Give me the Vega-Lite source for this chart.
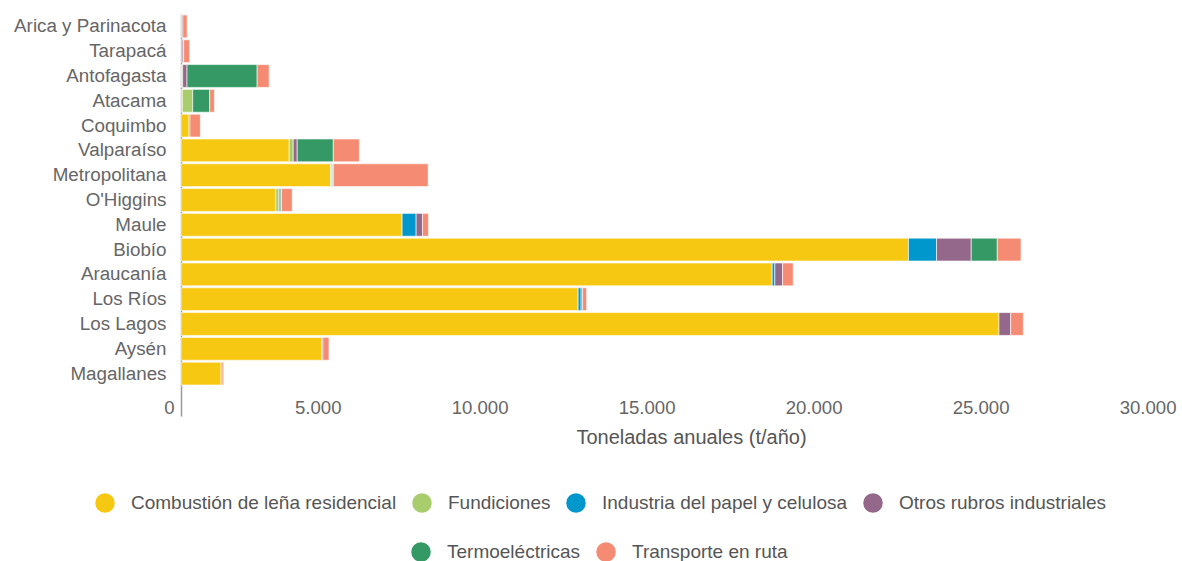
{
  "$schema": "https://vega.github.io/schema/vega-lite/v6.json",
  "width": 1002,
  "height": 372,
  "autosize": {"type": "none"},
  "padding": {"left": 181, "top": 14, "right": 0, "bottom": 175},
  "background": "white",
  "config": {
    "font": "Liberation Sans",
    "view": {"stroke": null},
    "legend": {
      "symbolType": "circle",
      "symbolSize": 380,
      "symbolStrokeWidth": 0,
      "symbolOpacity": 1,
      "labelFontSize": 19,
      "labelColor": "#555555",
      "labelFont": "Liberation Sans",
      "labelOffset": 16,
      "labelLimit": 0,
      "columnPadding": 15,
      "direction": "horizontal",
      "orient": "none",
      "title": null
    }
  },
  "data": {
    "values": [
      {"region": "Arica y Parinacota", "fuente": "Combustión de leña residencial", "valor": 15},
      {"region": "Arica y Parinacota", "fuente": "Otros rubros industriales", "valor": 40},
      {"region": "Arica y Parinacota", "fuente": "Transporte en ruta", "valor": 130},
      {"region": "Tarapacá", "fuente": "Combustión de leña residencial", "valor": 10},
      {"region": "Tarapacá", "fuente": "Otros rubros industriales", "valor": 50},
      {"region": "Tarapacá", "fuente": "Termoeléctricas", "valor": 20},
      {"region": "Tarapacá", "fuente": "Transporte en ruta", "valor": 180},
      {"region": "Antofagasta", "fuente": "Combustión de leña residencial", "valor": 20},
      {"region": "Antofagasta", "fuente": "Fundiciones", "valor": 30},
      {"region": "Antofagasta", "fuente": "Otros rubros industriales", "valor": 130},
      {"region": "Antofagasta", "fuente": "Termoeléctricas", "valor": 2100},
      {"region": "Antofagasta", "fuente": "Transporte en ruta", "valor": 360},
      {"region": "Atacama", "fuente": "Combustión de leña residencial", "valor": 40},
      {"region": "Atacama", "fuente": "Fundiciones", "valor": 310},
      {"region": "Atacama", "fuente": "Termoeléctricas", "valor": 510},
      {"region": "Atacama", "fuente": "Transporte en ruta", "valor": 140},
      {"region": "Coquimbo", "fuente": "Combustión de leña residencial", "valor": 240},
      {"region": "Coquimbo", "fuente": "Otros rubros industriales", "valor": 30},
      {"region": "Coquimbo", "fuente": "Transporte en ruta", "valor": 310},
      {"region": "Valparaíso", "fuente": "Combustión de leña residencial", "valor": 3240},
      {"region": "Valparaíso", "fuente": "Fundiciones", "valor": 120},
      {"region": "Valparaíso", "fuente": "Otros rubros industriales", "valor": 120},
      {"region": "Valparaíso", "fuente": "Termoeléctricas", "valor": 1080},
      {"region": "Valparaíso", "fuente": "Transporte en ruta", "valor": 780},
      {"region": "Metropolitana", "fuente": "Combustión de leña residencial", "valor": 4480},
      {"region": "Metropolitana", "fuente": "Fundiciones", "valor": 30},
      {"region": "Metropolitana", "fuente": "Otros rubros industriales", "valor": 30},
      {"region": "Metropolitana", "fuente": "Termoeléctricas", "valor": 20},
      {"region": "Metropolitana", "fuente": "Transporte en ruta", "valor": 2840},
      {"region": "O'Higgins", "fuente": "Combustión de leña residencial", "valor": 2840},
      {"region": "O'Higgins", "fuente": "Fundiciones", "valor": 90},
      {"region": "O'Higgins", "fuente": "Otros rubros industriales", "valor": 40},
      {"region": "O'Higgins", "fuente": "Termoeléctricas", "valor": 40},
      {"region": "O'Higgins", "fuente": "Transporte en ruta", "valor": 320},
      {"region": "Maule", "fuente": "Combustión de leña residencial", "valor": 6620},
      {"region": "Maule", "fuente": "Industria del papel y celulosa", "valor": 420},
      {"region": "Maule", "fuente": "Otros rubros industriales", "valor": 190},
      {"region": "Maule", "fuente": "Transporte en ruta", "valor": 180},
      {"region": "Biobío", "fuente": "Combustión de leña residencial", "valor": 21780},
      {"region": "Biobío", "fuente": "Industria del papel y celulosa", "valor": 840},
      {"region": "Biobío", "fuente": "Otros rubros industriales", "valor": 1040},
      {"region": "Biobío", "fuente": "Termoeléctricas", "valor": 780},
      {"region": "Biobío", "fuente": "Transporte en ruta", "valor": 710},
      {"region": "Araucanía", "fuente": "Combustión de leña residencial", "valor": 17700},
      {"region": "Araucanía", "fuente": "Industria del papel y celulosa", "valor": 80},
      {"region": "Araucanía", "fuente": "Otros rubros industriales", "valor": 230},
      {"region": "Araucanía", "fuente": "Transporte en ruta", "valor": 320},
      {"region": "Los Ríos", "fuente": "Combustión de leña residencial", "valor": 11890},
      {"region": "Los Ríos", "fuente": "Industria del papel y celulosa", "valor": 90},
      {"region": "Los Ríos", "fuente": "Otros rubros industriales", "valor": 45},
      {"region": "Los Ríos", "fuente": "Transporte en ruta", "valor": 120},
      {"region": "Los Lagos", "fuente": "Combustión de leña residencial", "valor": 24490},
      {"region": "Los Lagos", "fuente": "Otros rubros industriales", "valor": 350},
      {"region": "Los Lagos", "fuente": "Transporte en ruta", "valor": 380},
      {"region": "Aysén", "fuente": "Combustión de leña residencial", "valor": 4220},
      {"region": "Aysén", "fuente": "Otros rubros industriales", "valor": 30},
      {"region": "Aysén", "fuente": "Transporte en ruta", "valor": 180},
      {"region": "Magallanes", "fuente": "Combustión de leña residencial", "valor": 1200},
      {"region": "Magallanes", "fuente": "Otros rubros industriales", "valor": 30},
      {"region": "Magallanes", "fuente": "Transporte en ruta", "valor": 50}
    ]
  },
  "transform": [
    {"stack": "valor", "groupby": ["region"], "sort": [{"field": "fuente", "order": "ascending"}], "as": ["x0", "x1"]}
  ],
  "encoding": {
    "y": {
      "field": "region",
      "type": "nominal",
      "sort": ["Arica y Parinacota", "Tarapacá", "Antofagasta", "Atacama", "Coquimbo", "Valparaíso", "Metropolitana", "O'Higgins", "Maule", "Biobío", "Araucanía", "Los Ríos", "Los Lagos", "Aysén", "Magallanes"],
      "scale": {"paddingInner": 0.08, "paddingOuter": 0.04},
      "axis": {
        "title": null,
        "ticks": false,
        "domainColor": "#9a9a9a",
        "domainWidth": 1.5,
        "labelFontSize": 18.8,
        "labelColor": "#666666",
        "labelPadding": 15,
        "labelFont": "Liberation Sans"
      }
    },
    "x": {
      "field": "x0",
      "type": "quantitative",
      "scale": {"domain": [0, 30000], "nice": false},
      "axis": {
        "title": "Toneladas anuales (t/año)",
        "values": [0, 5000, 10000, 15000, 20000, 25000, 30000],
        "format": ",.0f",
        "labelExpr": "replace(datum.label, ',', '.')",
        "domain": false,
        "grid": false,
        "ticks": true,
        "tickSize": 30,
        "tickWidth": 1.5,
        "tickColor": {"condition": {"test": "datum.value === 0", "value": "#9a9a9a"}, "value": "transparent"},
        "labelAlign": "right",
        "labelOffset": -7,
        "labelPadding": -18,
        "labelFlush": false,
        "labelFontSize": 18.6,
        "labelColor": "#666666",
        "labelFont": "Liberation Sans",
        "titleFontSize": 20,
        "titleFontWeight": "normal",
        "titleColor": "#555555",
        "titleFont": "Liberation Sans",
        "titleAlign": "center",
        "titleBaseline": "middle",
        "titleX": 510,
        "titleY": 51
      }
    },
    "x2": {"field": "x1"}
  },
  "layer": [
    {
      "transform": [{"filter": "indexof(['Combustión de leña residencial','Fundiciones','Industria del papel y celulosa','Otros rubros industriales'], datum.fuente) >= 0"}],
      "mark": {"type": "bar", "stroke": "white", "strokeWidth": 1, "strokeOpacity": 0.6},
      "encoding": {
        "color": {
          "field": "fuente",
          "type": "nominal",
          "scale": {
            "domain": ["Combustión de leña residencial", "Fundiciones", "Industria del papel y celulosa", "Otros rubros industriales"],
            "range": ["#F7C811", "#A9CC6C", "#0097CC", "#93688A"]
          },
          "legend": {"orient": "none", "direction": "horizontal", "columns": 4, "legendX": -86, "legendY": 479}
        }
      }
    },
    {
      "transform": [{"filter": "indexof(['Termoeléctricas','Transporte en ruta'], datum.fuente) >= 0"}],
      "mark": {"type": "bar", "stroke": "white", "strokeWidth": 1, "strokeOpacity": 0.6},
      "encoding": {
        "color": {
          "field": "fuente",
          "type": "nominal",
          "scale": {
            "domain": ["Termoeléctricas", "Transporte en ruta"],
            "range": ["#349964", "#F68B74"]
          },
          "legend": {"orient": "none", "direction": "horizontal", "columns": 2, "legendX": 230, "legendY": 528}
        }
      }
    }
  ],
  "resolve": {"scale": {"color": "independent"}}
}
